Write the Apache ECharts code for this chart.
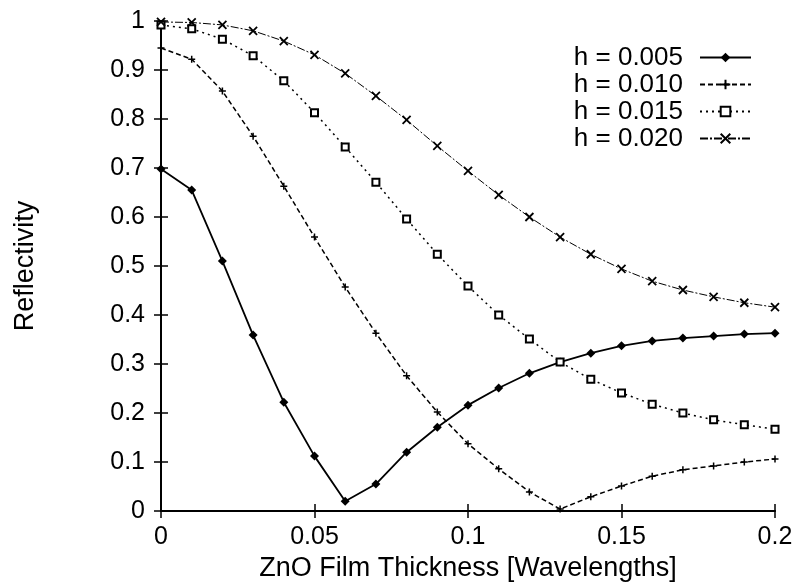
<!DOCTYPE html>
<html>
<head>
<meta charset="utf-8">
<script src="https://cdn.jsdelivr.net/npm/echarts@6/dist/echarts.min.js"></script>
<style>
  html, body { margin: 0; padding: 0; background: #fff; }
  #chart { width: 798px; height: 587px; }
</style>
</head>
<body>
<div id="chart"></div>
<script>
// thickness in wavelengths
const thickness = [0, 0.01, 0.02, 0.03, 0.04, 0.05, 0.06, 0.07, 0.08, 0.09, 0.10,
  0.11, 0.12, 0.13, 0.14, 0.15, 0.16, 0.17, 0.18, 0.19, 0.20];

// reflectivity for each h
const h005 = [0.698, 0.655, 0.510, 0.359, 0.222, 0.112, 0.020, 0.055, 0.120, 0.171, 0.216,
  0.251, 0.281, 0.304, 0.322, 0.337, 0.347, 0.353, 0.357, 0.361, 0.363];
const h010 = [0.945, 0.922, 0.857, 0.765, 0.663, 0.559, 0.457, 0.363, 0.276, 0.202, 0.137,
  0.086, 0.039, 0.004, 0.029, 0.051, 0.071, 0.084, 0.092, 0.100, 0.106];
const h015 = [0.992, 0.984, 0.963, 0.929, 0.878, 0.813, 0.743, 0.671, 0.596, 0.524, 0.459,
  0.400, 0.351, 0.304, 0.269, 0.241, 0.218, 0.200, 0.186, 0.176, 0.167];
const h020 = [0.998, 0.997, 0.992, 0.980, 0.959, 0.931, 0.893, 0.847, 0.798, 0.745, 0.694,
  0.645, 0.600, 0.559, 0.524, 0.494, 0.469, 0.451, 0.437, 0.425, 0.416];

const seriesNames = ["h = 0.005", "h = 0.010", "h = 0.015", "h = 0.020"];

const font = "Liberation Sans, Arial, sans-serif";

function pairs(ys) {
  return thickness.map((x, i) => [x, ys[i]]);
}

const chart = echarts.init(document.getElementById("chart"));

// mirrored top/right axes: ticks only
const hiddenAxis = {
  axisLabel: { show: false },
  axisLine: { show: true, lineStyle: { color: "#000", width: 1.5 } },
  axisTick: { show: true, inside: true, length: 7, lineStyle: { color: "#000", width: 1.5 } },
  splitLine: { show: false }
};

const option = {
  backgroundColor: "#fff",
  animation: false,
  grid: { left: 161, right: 23, top: 21, bottom: 76 },
  legend: {
    orient: "vertical",
    right: 41,
    top: 39,
    align: "right",
    itemWidth: 51,
    itemHeight: 12,
    itemGap: 0,
    textStyle: { fontFamily: font, fontSize: 26, color: "#000", lineHeight: 27, padding: [0, 12, 0, 0] },
    data: seriesNames
  },
  xAxis: [
    {
      type: "value",
      min: 0,
      max: 0.2,
      interval: 0.05,
      name: "ZnO Film Thickness [Wavelengths]",
      nameLocation: "middle",
      nameGap: 42,
      nameTextStyle: { fontFamily: font, fontSize: 27, color: "#000" },
      axisLine: { show: true, lineStyle: { color: "#000", width: 2 } },
      axisTick: { show: true, inside: true, length: 7, lineStyle: { color: "#000", width: 1.5 } },
      axisLabel: { fontFamily: font, fontSize: 25, color: "#000", margin: 14 },
      splitLine: { show: false }
    },
    Object.assign({ type: "value", position: "top", min: 0, max: 0.2, interval: 0.05 }, hiddenAxis)
  ],
  yAxis: [
    {
      type: "value",
      min: 0,
      max: 1,
      interval: 0.1,
      name: "Reflectivity",
      nameLocation: "middle",
      nameGap: 122,
      nameTextStyle: { fontFamily: font, fontSize: 27, color: "#000" },
      axisLine: { show: true, lineStyle: { color: "#000", width: 2 } },
      axisTick: { show: true, inside: true, length: 7, lineStyle: { color: "#000", width: 1.5 } },
      axisLabel: { fontFamily: font, fontSize: 25, color: "#000", margin: 16 },
      splitLine: { show: false }
    },
    Object.assign({ type: "value", position: "right", min: 0, max: 1, interval: 0.1 }, hiddenAxis)
  ],
  series: [
    {
      name: seriesNames[0],
      type: "line",
      data: pairs(h005),
      symbol: "diamond",
      symbolSize: 9,
      itemStyle: { color: "#000" },
      lineStyle: { color: "#000", width: 1.8, type: "solid" }
    },
    {
      name: seriesNames[1],
      type: "line",
      data: pairs(h010),
      symbol: "path://M0,5L10,5M5,0L5,10",
      symbolSize: 7,
      itemStyle: { color: "#000", borderColor: "#000", borderWidth: 1.5 },
      lineStyle: { color: "#000", width: 1.5, type: [5, 3] }
    },
    {
      name: seriesNames[2],
      type: "line",
      data: pairs(h015),
      symbol: "emptyRect",
      symbolSize: 7,
      itemStyle: { color: "#000", borderColor: "#000", borderWidth: 2 },
      lineStyle: { color: "#000", width: 1.5, type: [2, 4] }
    },
    {
      name: seriesNames[3],
      type: "line",
      data: pairs(h020),
      symbol: "path://M0,0L10,10M0,10L10,0",
      symbolSize: 8,
      itemStyle: { color: "#000", borderColor: "#000", borderWidth: 1.8 },
      lineStyle: { color: "#000", width: 1, type: [8, 2, 2, 2] }
    }
  ]
};

chart.setOption(option);
</script>
</body>
</html>
